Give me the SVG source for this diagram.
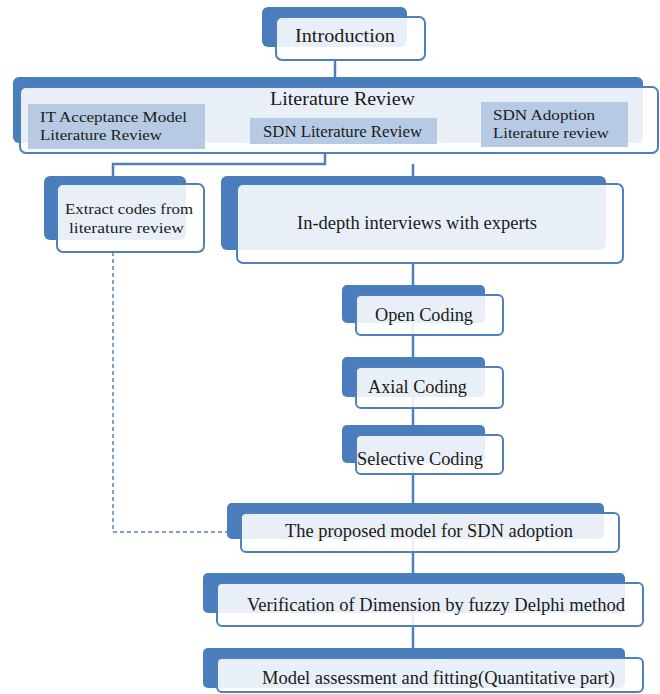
<svg xmlns="http://www.w3.org/2000/svg" width="660" height="694" viewBox="0 0 660 694">
<style>
.back{fill:#4a7dbb}
.front{fill:#fff;fill-opacity:0.88;stroke:#4f7fbd;stroke-width:2}
.sub{fill:#b7cae3}
.conn{stroke:#4f7fbd;stroke-width:2.5;fill:none}
.dash{stroke:#5a7fc0;stroke-width:1.5;fill:none;stroke-dasharray:4 3}
text{font-family:"Liberation Serif","Times New Roman",serif;fill:#1a1a1a}
.t{font-size:19px}
.s{font-size:17px}
.s2{font-size:15px}
</style>
<rect width="660" height="694" fill="#fff"/>
<g id="connectors">
<path class="conn" d="M335 60V78"/>
<path class="conn" d="M325 153V164H113V178M413 164V184"/>
<path class="conn" d="M413 262V660"/>
<path class="dash" d="M113 252V532H228"/>
</g>
<g id="introduction">
<rect class="back" x="262" y="7" width="145" height="40" rx="6"/>
<rect class="front" x="276" y="17" width="149" height="43" rx="6"/>
<text class="t" x="295" y="42" textLength="100" lengthAdjust="spacingAndGlyphs">Introduction</text>
</g>
<g id="literature-review">
<rect class="back" x="13" y="77" width="630" height="66" rx="6"/>
<rect class="front" x="20" y="87" width="638" height="66" rx="6"/>
<text class="t" x="270" y="105" textLength="145" lengthAdjust="spacingAndGlyphs">Literature Review</text>
<rect class="sub" x="28" y="104" width="177" height="45"/>
<text class="s2" x="40" y="122" textLength="147" lengthAdjust="spacingAndGlyphs">IT Acceptance Model</text>
<text class="s2" x="40" y="140" textLength="122" lengthAdjust="spacingAndGlyphs">Literature Review</text>
<rect class="sub" x="250" y="118" width="187" height="26"/>
<text class="s" x="263" y="137" textLength="159" lengthAdjust="spacingAndGlyphs">SDN Literature Review</text>
<rect class="sub" x="481" y="102" width="147" height="45"/>
<text class="s2" x="493" y="120" textLength="102" lengthAdjust="spacingAndGlyphs">SDN Adoption</text>
<text class="s2" x="493" y="138" textLength="116" lengthAdjust="spacingAndGlyphs">Literature review</text>
</g>
<g id="extract-codes">
<rect class="back" x="44" y="176" width="142" height="64" rx="6"/>
<rect class="front" x="57" y="184" width="147" height="68" rx="6"/>
<text class="s2" x="65" y="214" textLength="128" lengthAdjust="spacingAndGlyphs">Extract codes from</text>
<text class="s2" x="69" y="233" textLength="115" lengthAdjust="spacingAndGlyphs">literature review</text>
</g>
<g id="interviews">
<rect class="back" x="221" y="176" width="385" height="74" rx="6"/>
<rect class="front" x="237" y="184" width="386" height="79" rx="6"/>
<text class="t" x="297" y="229" textLength="240" lengthAdjust="spacingAndGlyphs">In-depth interviews with experts</text>
</g>
<g id="open-coding">
<rect class="back" x="342" y="285" width="143" height="38" rx="5"/>
<rect class="front" x="356" y="295" width="147" height="40" rx="5"/>
<text class="t" x="375" y="321" textLength="98" lengthAdjust="spacingAndGlyphs">Open Coding</text>
</g>
<g id="axial-coding">
<rect class="back" x="342" y="357" width="143" height="40" rx="5"/>
<rect class="front" x="356" y="367" width="147" height="41" rx="5"/>
<text class="t" x="368" y="393" textLength="99" lengthAdjust="spacingAndGlyphs">Axial Coding</text>
</g>
<g id="selective-coding">
<rect class="back" x="342" y="425" width="143" height="38" rx="5"/>
<rect class="front" x="356" y="435" width="147" height="39" rx="5"/>
<text class="t" x="357" y="465" textLength="126" lengthAdjust="spacingAndGlyphs">Selective Coding</text>
</g>
<g id="proposed-model">
<rect class="back" x="227" y="503" width="377" height="36" rx="5"/>
<rect class="front" x="241" y="513" width="378" height="39" rx="5"/>
<text class="t" x="285" y="537" textLength="288" lengthAdjust="spacingAndGlyphs">The proposed model for SDN adoption</text>
</g>
<g id="verification">
<rect class="back" x="203" y="573" width="422" height="40" rx="5"/>
<rect class="front" x="217" y="583" width="426" height="43" rx="5"/>
<text class="t" x="247" y="611" textLength="378" lengthAdjust="spacingAndGlyphs">Verification of Dimension by fuzzy Delphi method</text>
</g>
<g id="model-assessment">
<rect class="back" x="203" y="648" width="422" height="40" rx="5"/>
<rect class="front" x="217" y="658" width="426" height="34" rx="5"/>
<text class="t" x="262" y="684" textLength="353" lengthAdjust="spacingAndGlyphs">Model assessment and fitting(Quantitative part)</text>
</g>
</svg>
